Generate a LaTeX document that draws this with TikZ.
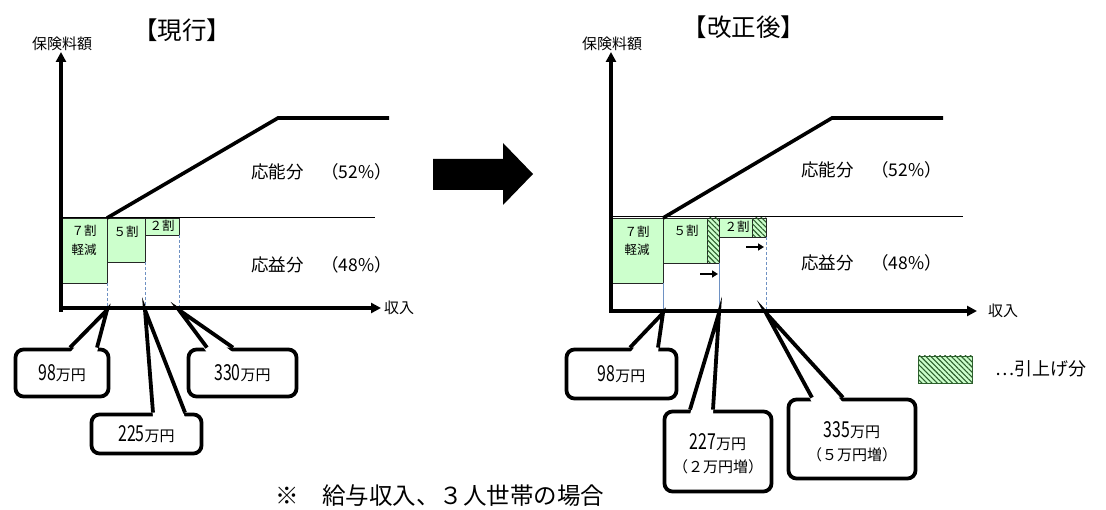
\documentclass[tikz,border=0pt]{standalone}
\usepackage{fontspec}
\usepackage{graphicx}
\setmainfont{Noto Sans CJK JP}
\usetikzlibrary{arrows.meta,patterns.meta}
\definecolor{lgreen}{RGB}{204,255,204}
\definecolor{hgreen}{RGB}{45,95,45}
\definecolor{guideblue}{RGB}{110,145,195}
\newcommand\fs[1]{\fontsize{#1}{#1}\selectfont}
\newcommand\dg[1]{\scalebox{0.72}[1]{\fs{22}#1}}
\newcommand\calltail[4]{%
  \fill[white] ([xshift=#3,yshift=-5pt]#1.north) -- (#2) -- ([xshift=#4,yshift=-5pt]#1.north) -- cycle;
  \draw[tailline] ([xshift=#3]#1.north) -- (#2) -- ([xshift=#4]#1.north);}
\tikzset{
 axisline/.style={line width=3.3pt,-{Triangle[length=10pt,width=10pt]}},
 costline/.style={line width=3.6pt},
 splitline/.style={line width=0.9pt},
 greenbox/.style={draw=black!85,line width=0.9pt,fill=lgreen},
 hatchbox/.style={greenbox,postaction={pattern={Lines[angle=-45,distance=3.6pt,line width=1.1pt]},pattern color=hgreen}},
 guideline/.style={guideblue,line width=0.7pt},
 guidedash/.style={guideline,dash pattern=on 3pt off 2pt},
 callbox/.style={draw,line width=3.8pt,rounded corners=8pt,fill=white,inner sep=0pt,align=center},
 tailline/.style={line width=3.8pt,line join=miter},
 lbl/.style={inner sep=0pt},
 shiftarrow/.style={line width=2.2pt,-{Triangle[length=6pt,width=7pt]}},
}
\begin{document}
\begin{tikzpicture}[x=1pt,y=-1pt]
\useasboundingbox (0,0) rectangle (1106,510);

% ================= LEFT PANEL =================
\node[lbl,font=\fs{24.5}] (Ltitle) at (182,30) {【現行】};
\node[lbl,font=\fs{15}] (Lylab) at (62,44) {保険料額};
\node[lbl,font=\fs{15}] (Lxlab) at (399,308) {収入};
\coordinate (Lorig) at (61,312);
\coordinate (Lytop) at (61,52);
\coordinate (Lx0) at (59.5,308);
\coordinate (Lxend) at (381,308);
% boxes
\draw[greenbox] (61,218) rectangle (107,283);
\draw[greenbox] (107,218) rectangle (145,262);
\draw[greenbox] (145,218) rectangle (179,235);
\node[lbl,font=\fs{12.5}] (L7a) at (84,231) {７割};
\node[lbl,font=\fs{12.5}] (L7b) at (84,250) {軽減};
\node[lbl,font=\fs{12.5}] (L5) at (126,232) {５割};
\node[lbl,font=\fs{12.5}] (L2) at (162,226) {２割};
% guides
\draw[guidedash] (107,283) -- (107,307);
\draw[guidedash] (145,262) -- (145,307);
\draw[guidedash] (179,235) -- (179,307);
% lines
\draw[splitline] (61,217) -- (375,217);
\draw[costline] (107,218) -- (278,118) -- (389,118);
\node[lbl,font=\fs{17.5},anchor=west] (Lnou) at (251,172) {応能分　（52\%）};
\node[lbl,font=\fs{17.5},anchor=west] (Leki) at (251,265) {応益分　（48\%）};
% axes
\draw[axisline] (Lorig) -- (Lytop);
\draw[axisline] (Lx0) -- (Lxend);

% callouts
\coordinate (L98tip) at (107,310);
\coordinate (L225tip) at (145,310);
\coordinate (L330tip) at (179,310);
\node[callbox,minimum width=93pt,minimum height=47pt] (L98) at (62,373) {\dg{98}\fs{15}万円};
\node[callbox,minimum width=110pt,minimum height=39pt] (L225) at (146.5,434) {\dg{225}\fs{15}万円};
\node[callbox,minimum width=108pt,minimum height=47pt] (L330) at (242.5,373) {\dg{330}\fs{15}万円};
\calltail{L98}{L98tip}{8pt}{35pt}
\calltail{L225}{L225tip}{6.5pt}{38.5pt}
\calltail{L330}{L330tip}{-35.5pt}{-9.5pt}

% ================= MIDDLE ARROW =================
\fill (433,159) -- (503,159) -- (503,143) -- (533,174) -- (503,205) -- (503,190) -- (433,190) -- cycle;

% ================= RIGHT PANEL =================
\node[lbl,font=\fs{24.5}] (Rtitle) at (744,27) {【改正後】};
\node[lbl,font=\fs{15}] (Rylab) at (612,44) {保険料額};
\node[lbl,font=\fs{15}] (Rxlab) at (1003,311) {収入};
\coordinate (Rorig) at (611,313);
\coordinate (Rytop) at (611,52);
\coordinate (Rx0) at (609.5,311);
\coordinate (Rxend) at (977,311);
% boxes
\draw[greenbox] (611,218) rectangle (663,283);
\draw[greenbox] (663,218) rectangle (707,263);
\draw[hatchbox] (707,218) rectangle (719,263);
\draw[greenbox] (719,218) rectangle (752,237);
\draw[hatchbox] (752,218) rectangle (766,237);
\node[lbl,font=\fs{12.5}] (R7a) at (637,232) {７割};
\node[lbl,font=\fs{12.5}] (R7b) at (637,250) {軽減};
\node[lbl,font=\fs{12.5}] (R5) at (686,231) {５割};
\node[lbl,font=\fs{12.5}] (R2) at (737,227) {２割};
% shift arrows
\coordinate (Ra1s) at (700,274); \coordinate (Ra1e) at (718,274);
\coordinate (Ra2s) at (746,247); \coordinate (Ra2e) at (764,247);
\draw[shiftarrow] (Ra1s) -- (Ra1e);
\draw[shiftarrow] (Ra2s) -- (Ra2e);
% guides
\draw[guideline] (663,283) -- (663,310);
\draw[guideline] (719,263) -- (719,310);
\draw[guidedash] (766,237) -- (766,310);
% lines
\draw[splitline] (611,216) -- (963,216);
\draw[costline] (663,218) -- (832,118) -- (943,118);
\node[lbl,font=\fs{17.5},anchor=west] (Rnou) at (801,170) {応能分　（52\%）};
\node[lbl,font=\fs{17.5},anchor=west] (Reki) at (801,263) {応益分　（48\%）};
% axes
\draw[axisline] (Rorig) -- (Rytop);
\draw[axisline] (Rx0) -- (Rxend);

% callouts
\coordinate (R98tip) at (663,313);
\coordinate (R227tip) at (719,313);
\coordinate (R335tip) at (766,313);
\node[callbox,minimum width=110pt,minimum height=49pt] (R98) at (621.5,374) {\dg{98}\fs{15}万円};
\node[callbox,minimum width=107pt,minimum height=80pt] (R227) at (718,451.5) {};
\node[callbox,minimum width=127pt,minimum height=79pt] (R335) at (852,439) {};
\node[lbl] (R227a) at (718,442) {\dg{227}\fs{15}万円};
\node[lbl,font=\fs{15}] (R227b) at (718,467) {（２万円増）};
\node[lbl] (R335a) at (852,430) {\dg{335}\fs{15}万円};
\node[lbl,font=\fs{15}] (R335b) at (852,455) {（５万円増）};
\calltail{R98}{R98tip}{8.5pt}{36.5pt}
\calltail{R227}{R227tip}{-28pt}{-5pt}
\calltail{R335}{R335tip}{-40pt}{-9pt}

% legend
\draw[hatchbox,draw=hgreen] (918,356) rectangle (972,383);
\node[lbl,font=\fs{18},anchor=west] (legtext) at (995,369) {…引上げ分};

% footnote
\node[lbl,font=\fs{23.5},anchor=west] (foot) at (275,496) {※　給与収入、３人世帯の場合};
\end{tikzpicture}
\end{document}
